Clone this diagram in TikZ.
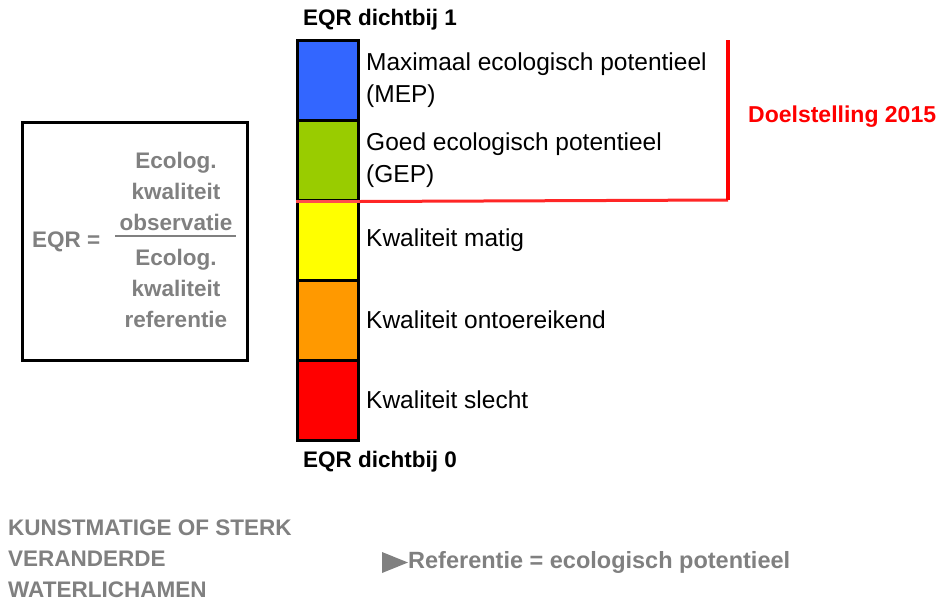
\documentclass[tikz,border=0pt]{standalone}
\usepackage{fontspec}
\setmainfont{Liberation Sans}
\usetikzlibrary{positioning}
\definecolor{mepblue}{HTML}{3366FF}
\definecolor{gepgreen}{HTML}{99CC00}
\definecolor{matyellow}{HTML}{FFFF00}
\definecolor{ontorange}{HTML}{FF9900}
\definecolor{slered}{HTML}{FF0000}
\definecolor{txtgray}{HTML}{808080}
\tikzset{
  band/.style={draw=black, line width=3pt, minimum width=61pt, minimum height=80pt, inner sep=0pt},
  lbl/.style={anchor=west, inner sep=0pt, align=left, font=\fontsize{24.5}{32}\selectfont},
  boldlbl/.style={anchor=west, inner sep=0pt, font=\bfseries\fontsize{22.5}{31}\selectfont},
  graylbl/.style={inner sep=0pt, align=center, text=txtgray, font=\bfseries\fontsize{22.5}{31}\selectfont},
}

\begin{document}
\begin{tikzpicture}[x=1pt, y=-1pt]
	\useasboundingbox (0,0) rectangle (943,603);

	% EQR scale
	\node[band, fill=mepblue]   (mep) at (327.5,80)  {};
	\node[band, fill=gepgreen]  (gep) at (327.5,160) {};
	\node[band, fill=matyellow] (mat) at (327.5,240) {};
	\node[band, fill=ontorange] (ont) at (327.5,320) {};
	\node[band, fill=slered]    (sle) at (327.5,400) {};

	\node[boldlbl] (top) at (303,20)  {EQR dichtbij 1};
	\node[boldlbl] (bot) at (303,462) {EQR dichtbij 0};

	\node[lbl] (tmep) at (366,80)  {Maximaal ecologisch potentieel\\(MEP)};
	\node[lbl] (tgep) at (366,160) {Goed ecologisch potentieel\\(GEP)};
	\node[lbl] (tmat) at (366,240) {Kwaliteit matig};
	\node[lbl] (tont) at (366,320) {Kwaliteit ontoereikend};
	\node[lbl] (tsle) at (366,400) {Kwaliteit slecht};

	% doelstelling
	\coordinate (D1) at (gep.south west);
	\coordinate (D2) at (gep.south east);
	\coordinate (D3) at (728,200);
	\coordinate (D4) at (728,40);
	\draw[red!70, line width=3pt] (D1) -- (D2);
	\draw[red!85, line width=3pt] (D2) -- (D3);
	\draw[red, line width=4pt] (D3) -- (D4);
	\node[boldlbl, text=red, font=\bfseries\fontsize{23}{31}\selectfont] (doel) at (748,117) {Doelstelling 2015};

	% formule
	\node[draw, line width=3pt, minimum width=225pt, minimum height=238pt] (box) at (134.5,241) {};
	\node[graylbl, anchor=west] (eqr) at (32,242) {EQR =};
	\node[graylbl] (num) at (176,191) {Ecolog.\\kwaliteit\\observatie};
	\node[graylbl] (den) at (176,288) {Ecolog.\\kwaliteit\\referentie};
	\draw[txtgray, line width=2pt] (115,236) -- (236,236);

	% onderschrift
	\node[graylbl, anchor=west, align=left, font=\bfseries\fontsize{22.5}{31}\selectfont] (kunst) at (8,559) {KUNSTMATIGE OF STERK\\VERANDERDE\\WATERLICHAMEN};
	\coordinate (T1) at (382,552);
	\coordinate (T2) at (408,562.5);
	\coordinate (T3) at (382,573);
	\fill[txtgray] (T1) -- (T2) -- (T3) -- cycle;
	\node[graylbl, anchor=west, font=\bfseries\fontsize{23.5}{31}\selectfont] (ref) at (T2) {Referentie = ecologisch potentieel};
\end{tikzpicture}
\end{document}
